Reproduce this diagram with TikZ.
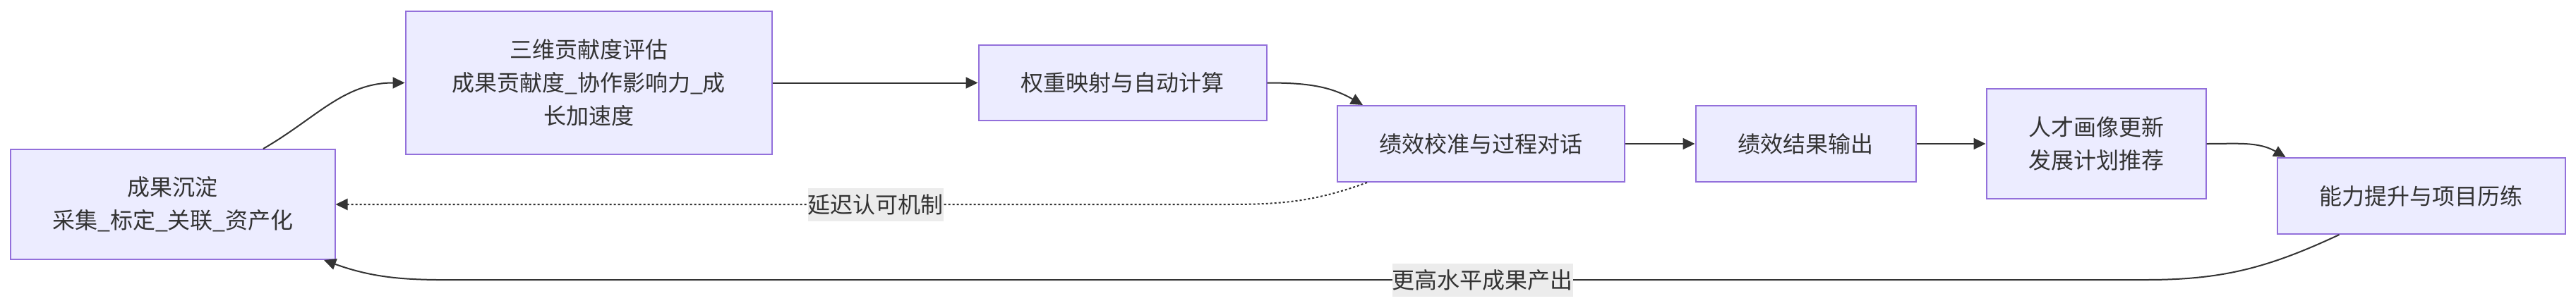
\documentclass[tikz,border=0pt]{standalone}
\usepackage{fontspec}
\usepackage{xcolor}
\usepackage{tikz}
\usetikzlibrary{arrows.meta,positioning}
\newfontfamily\cjk{Noto Sans CJK SC}
\definecolor{nodefill}{HTML}{ECECFF}
\definecolor{nodeline}{HTML}{9370DB}
\definecolor{edgeline}{HTML}{333333}
\definecolor{lblfill}{HTML}{ECECEC}

\begin{document}
\begin{tikzpicture}[
      node distance=49pt,
      font=\cjk\fontsize{16pt}{23.5pt}\selectfont,
      box/.style={draw=nodeline, line width=1pt, fill=nodefill, text=edgeline, inner sep=0pt, align=center},
      arr/.style={-{Triangle[length=8.5pt,width=8pt]}, line width=1pt, draw=edgeline},
      lag/.style={arr, dash pattern=on 1.5pt off 1.5pt},
      lbl/.style={fill=lblfill, text=edgeline, inner sep=0pt, minimum height=23.5pt}
    ]
      \useasboundingbox (-122.5pt,-73pt) rectangle (1702.5pt,145pt);
      \node[box, minimum width=229.5pt, minimum height=78pt] (settle) at (0,0) {成果沉淀\\采集\_标定\_关联\_资产化};
      \node[box, minimum width=259.5pt, minimum height=101.5pt, right=of settle, yshift=86.25pt] (eval) {三维贡献度评估\\成果贡献度\_协作影响力\_成\\长加速度};
      \node[box, minimum width=204pt, minimum height=53.5pt, right=145.5pt of eval] (weight) {权重映射与自动计算};
      \node[box, minimum width=203.5pt, minimum height=54pt, right=of weight, yshift=-43.25pt] (calib) {绩效校准与过程对话};
      \node[box, minimum width=156pt, minimum height=54pt, right=49.5pt of calib] (result) {绩效结果输出};
      \node[box, minimum width=155.5pt, minimum height=78pt, right=of result] (portrait) {人才画像更新\\发展计划推荐};
      \node[box, minimum width=204pt, minimum height=54pt, right=49.5pt of portrait, yshift=-37pt] (growth) {能力提升与项目历练};
      % turning points of the two feedback loops
      \path ([xshift=-179pt]calib.south) coordinate (lagturn);
      \path ([xshift=-194.75pt,yshift=-32pt]growth.south) coordinate (backr);
      \path ([xshift=222.5pt,yshift=-14pt]settle.south) coordinate (backl);
      \draw[arr] ([xshift=64pt]settle.north) to[out=30,in=180] (eval.west);
      \draw[arr] (eval) -- (weight);
      \draw[arr] (weight.east) to[out=0,in=150] ([xshift=-83.5pt]calib.north);
      \draw[arr] (calib) -- (result);
      \draw[arr] (result) -- (portrait);
      \draw[arr] (portrait.east) to[out=0,in=150] ([xshift=-96pt]growth.north);
      \draw[lag] ([xshift=-80.5pt]calib.south) to[out=200,in=0] (lagturn |- settle.east)
        -- node[lbl, pos=0.395] (lagtext) {延迟认可机制} (settle.east);
      \draw[arr] ([xshift=-58pt]growth.south) to[out=205,in=0] (backr)
        -- node[lbl, pos=0.4] (backtext) {更高水平成果产出} (backl)
        to[out=180,in=-20] ([xshift=107pt]settle.south);
\end{tikzpicture}
\end{document}
